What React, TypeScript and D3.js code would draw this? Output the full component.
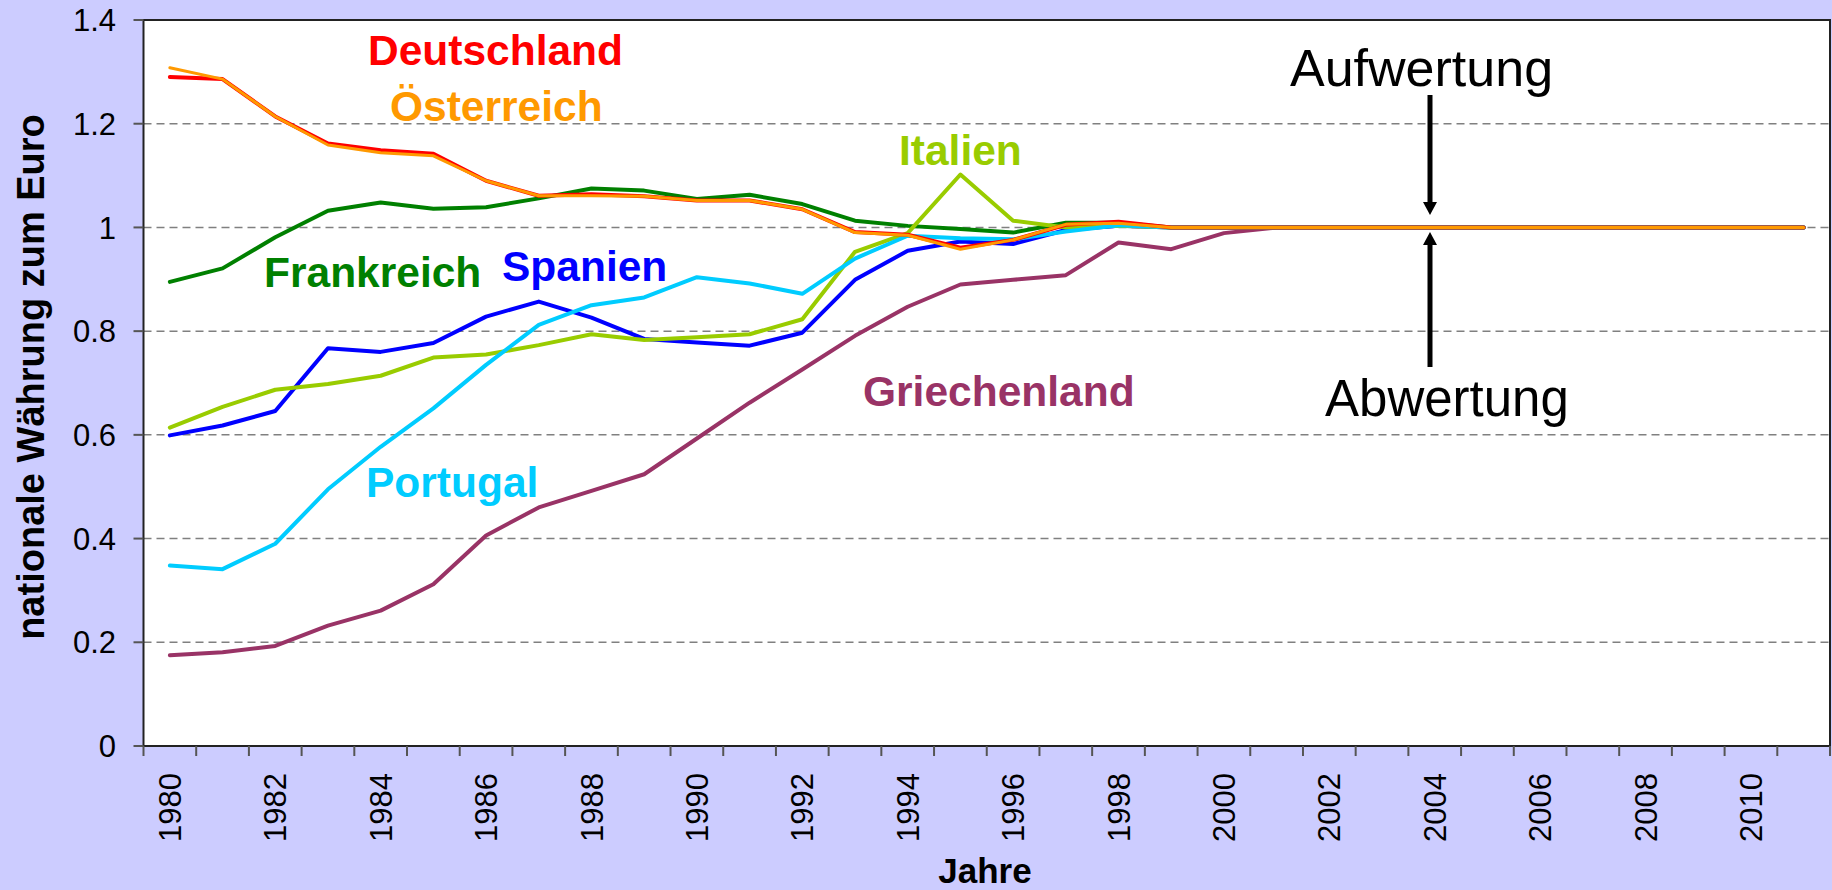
import React from "react";
import * as d3 from "d3";

// ---------- DATA ----------
const years = [
  1980, 1981, 1982, 1983, 1984, 1985, 1986, 1987, 1988, 1989, 1990, 1991, 1992, 1993, 1994, 1995,
  1996, 1997, 1998, 1999, 2000, 2001, 2002, 2003, 2004, 2005, 2006, 2007, 2008, 2009, 2010, 2011,
];
const xTickLabels = [1980, 1982, 1984, 1986, 1988, 1990, 1992, 1994, 1996, 1998, 2000, 2002, 2004, 2006, 2008, 2010];
const yTicks = [0, 0.2, 0.4, 0.6, 0.8, 1, 1.2, 1.4];

const griechenland = [
  0.175, 0.181, 0.193, 0.232, 0.261, 0.312, 0.406, 0.46, 0.492, 0.524, 0.593, 0.662, 0.726, 0.791, 0.847, 0.89,
  0.899, 0.908, 0.971, 0.958, 0.989, 1, 1, 1, 1, 1, 1, 1, 1, 1, 1, 1,
];
const spanien = [
  0.599, 0.618, 0.646, 0.767, 0.76, 0.777, 0.828, 0.857, 0.826, 0.785, 0.778, 0.772, 0.797, 0.899, 0.955, 0.973,
  0.968, 0.995, 1.003, 1, 1, 1, 1, 1, 1, 1, 1, 1, 1, 1, 1, 1,
];
const frankreich = [
  0.895, 0.921, 0.981, 1.032, 1.048, 1.036, 1.039, 1.056, 1.075, 1.071, 1.055, 1.063, 1.045, 1.013, 1.003, 0.997,
  0.99, 1.009, 1.009, 1, 1, 1, 1, 1, 1, 1, 1, 1, 1, 1, 1, 1,
];
const italien = [
  0.614, 0.654, 0.687, 0.698, 0.714, 0.749, 0.755, 0.773, 0.794, 0.783, 0.788, 0.794, 0.823, 0.953, 0.989, 1.102,
  1.013, 1.0, 1.003, 1, 1, 1, 1, 1, 1, 1, 1, 1, 1, 1, 1, 1,
];
const portugal = [
  0.348, 0.341, 0.39, 0.495, 0.577, 0.651, 0.735, 0.812, 0.85, 0.865, 0.904, 0.892, 0.872, 0.94, 0.984, 0.979,
  0.977, 0.992, 1.004, 1, 1, 1, 1, 1, 1, 1, 1, 1, 1, 1, 1, 1,
];
const deutschland = [
  1.29, 1.286, 1.214, 1.162, 1.149, 1.142, 1.09, 1.061, 1.064, 1.06, 1.052, 1.052, 1.035, 0.991, 0.986, 0.961,
  0.976, 1.005, 1.011, 1, 1, 1, 1, 1, 1, 1, 1, 1, 1, 1, 1, 1,
];
const oesterreich = [
  1.308, 1.286, 1.214, 1.159, 1.144, 1.138, 1.09, 1.061, 1.061, 1.06, 1.052, 1.052, 1.035, 0.99, 0.985, 0.958,
  0.976, 1.006, 1.008, 1, 1, 1, 1, 1, 1, 1, 1, 1, 1, 1, 1, 1,
];

const seriesNames = ["Griechenland", "Spanien", "Frankreich", "Italien", "Portugal", "Deutschland", "Österreich"];
const seriesValues = [griechenland, spanien, frankreich, italien, portugal, deutschland, oesterreich];

// ---------- STYLE / LAYOUT ----------
const W = 1832;
const H = 890;
const plot = { left: 143.5, right: 1830, top: 20, bottom: 746 };
const FONT = "'Liberation Sans', Arial, Helvetica, sans-serif";

const seriesStyle: Record<string, { color: string; width: number }> = {
  Griechenland: { color: "#993366", width: 4 },
  Spanien: { color: "#0000FF", width: 4 },
  Frankreich: { color: "#008000", width: 4 },
  Italien: { color: "#99CC00", width: 4 },
  Portugal: { color: "#00CCFF", width: 4 },
  Deutschland: { color: "#FF0000", width: 4 },
  Österreich: { color: "#FF9900", width: 3 },
};

const labelPos: Record<string, { x: number; y: number }> = {
  Deutschland: { x: 368, y: 65 },
  Österreich: { x: 390, y: 121 },
  Italien: { x: 899, y: 165 },
  Frankreich: { x: 264, y: 287 },
  Spanien: { x: 502, y: 281 },
  Portugal: { x: 366, y: 497 },
  Griechenland: { x: 863, y: 406 },
};

export default function App() {
  const x = d3
    .scaleBand<number>()
    .domain(years)
    .range([plot.left, plot.right])
    .padding(0);
  const bw = x.bandwidth();
  const cx = (yr: number) => (x(yr) as number) + bw / 2;
  const y = d3.scaleLinear().domain([0, 1.4]).range([plot.bottom, plot.top]);

  const line = d3
    .line<number>()
    .x((_, i) => cx(years[i]))
    .y((v) => y(v));

  const boundaries = years.map((yr) => x(yr) as number).concat([plot.right]);

  const arrowX = 1430;

  return (
    <div style={{ position: "absolute", left: 0, top: 0 }}>
      <svg width={W} height={H} style={{ display: "block" }} fontFamily={FONT}>
        <rect x={0} y={0} width={W} height={H} fill="#CCCCFF" />
        <rect
          x={plot.left}
          y={plot.top}
          width={plot.right - plot.left}
          height={plot.bottom - plot.top}
          fill="#FFFFFF"
        />
        {/* gridlines */}
        {yTicks
          .filter((t) => t > 0 && t < 1.4)
          .map((t) => (
            <line
              key={"g" + t}
              x1={plot.left}
              x2={plot.right}
              y1={y(t)}
              y2={y(t)}
              stroke="#808080"
              strokeWidth={1.5}
              strokeDasharray="8,5"
            />
          ))}
        {/* plot border */}
        <rect
          x={plot.left}
          y={plot.top}
          width={plot.right - plot.left}
          height={plot.bottom - plot.top}
          fill="none"
          stroke="#222"
          strokeWidth={2}
        />
        {/* y ticks + labels */}
        {yTicks.map((t) => (
          <g key={"yt" + t}>
            <line x1={plot.left - 10} x2={plot.left} y1={y(t)} y2={y(t)} stroke="#555" strokeWidth={2} />
            <text
              x={116}
              y={y(t)}
              dy="0.36em"
              textAnchor="end"
              fontSize={31}
              fill="#000"
            >
              {String(t)}
            </text>
          </g>
        ))}
        {/* x ticks */}
        {boundaries.map((b, i) => (
          <line key={"xt" + i} x1={b} x2={b} y1={plot.bottom} y2={plot.bottom + 10} stroke="#555" strokeWidth={2} />
        ))}
        {xTickLabels.map((yr) => (
          <text
            key={"xl" + yr}
            transform={`translate(${cx(yr)},${773}) rotate(-90)`}
            textAnchor="end"
            dy="0.36em"
            fontSize={31}
            fill="#000"
          >
            {yr}
          </text>
        ))}
        {/* axis titles */}
        <text
          transform={`translate(44,377) rotate(-90)`}
          textAnchor="middle"
          fontSize={38}
          fontWeight="bold"
          fill="#000"
        >
          nationale Währung zum Euro
        </text>
        <text x={985} y={883} textAnchor="middle" fontSize={35} fontWeight="bold" fill="#000">
          Jahre
        </text>
        {/* series */}
        {seriesNames.map((name, i) => (
          <path
            key={name}
            d={line(seriesValues[i]) || ""}
            fill="none"
            stroke={seriesStyle[name].color}
            strokeWidth={seriesStyle[name].width}
            strokeLinejoin="round"
            strokeLinecap="round"
          />
        ))}
        {/* series labels */}
        {seriesNames.map((name) => (
          <text
            key={"lab" + name}
            x={labelPos[name].x}
            y={labelPos[name].y}
            fontSize={42.5}
            fontWeight="bold"
            fill={seriesStyle[name].color}
          >
            {name}
          </text>
        ))}
        {/* annotations */}
        <text x={1290} y={86} fontSize={52} fill="#000">
          Aufwertung
        </text>
        <text x={1325} y={416} fontSize={51} fill="#000">
          Abwertung
        </text>
        <line x1={arrowX} x2={arrowX} y1={95} y2={204} stroke="#000" strokeWidth={5} />
        <polygon
          points={`${arrowX - 7},${202} ${arrowX + 7},${202} ${arrowX},${215}`}
          fill="#000"
        />
        <line x1={arrowX} x2={arrowX} y1={243} y2={367} stroke="#000" strokeWidth={5} />
        <polygon
          points={`${arrowX - 7},${245} ${arrowX + 7},${245} ${arrowX},${232}`}
          fill="#000"
        />
      </svg>
    </div>
  );
}
